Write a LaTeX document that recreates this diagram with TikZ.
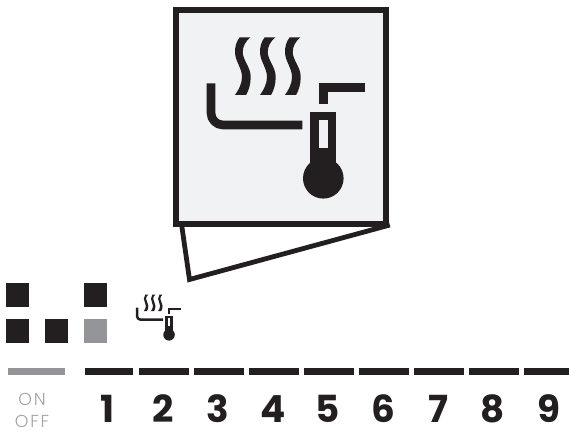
\documentclass[tikz,border=0pt]{standalone}
\usepackage{fontspec}
\setmainfont{Poppins}
\newfontfamily\digitfont{Poppins Bold}
\newfontfamily\labelfont[LetterSpace=10]{Poppins Light}
\definecolor{ink}{HTML}{231F20}
\definecolor{midgray}{HTML}{939598}
\definecolor{labelgray}{HTML}{A0A2A5}
\definecolor{panel}{HTML}{F1F2F3}
\tikzset{
  x=0.75pt,y=-0.75pt,
  block/.style={fill=ink,draw=none},
  grayblock/.style={fill=midgray,draw=none},
  digit/.style={inner sep=0pt,anchor=base,text=ink,font=\digitfont\fontsize{28}{28}\selectfont},
  onoff/.style={inner sep=0pt,anchor=base,text=labelgray,font=\labelfont\fontsize{13}{13}\selectfont},
}
% #1 = x shift, #2 = y shift, #3 = scale, #4 = background of the tube window
\newcommand{\steamicon}[4]{%
  \begin{scope}[shift={(#1,#2)},x=#3*0.75pt,y=-#3*0.75pt]
    \draw[ink,line width=#3*6.5pt,line join=round]
      (211,83.3) -- (211,113) arc[start angle=180,end angle=270,x radius=12,y radius=-12] -- (302.3,125);
    \draw[ink,line width=#3*6.4pt] (323.5,103.7) -- (323.5,87.7) -- (365.3,87.7);
    \fill[ink] (310,111.7) rectangle (336,170);
    \fill[ink] (323.3,178.3) circle[radius=20.3];
    \fill[#4] (318.7,120) rectangle (327.7,147.7);
    \foreach \d in {0,25,50}{
      \fill[ink] (239.7+\d,37.3)
        .. controls (236+\d,42) and (235+\d,47) .. (235+\d,52)
        .. controls (235+\d,61) and (242+\d,68) .. (242+\d,77)
        .. controls (242+\d,84) and (238.5+\d,90) .. (235+\d,95)
        -- (246+\d,95)
        .. controls (249+\d,90) and (250.7+\d,84) .. (250.7+\d,77)
        .. controls (250.7+\d,67) and (242.7+\d,60) .. (242.7+\d,52)
        .. controls (242.7+\d,46) and (246+\d,41) .. (250.3+\d,37.3)
        -- cycle;
    }
  \end{scope}}
\begin{document}
\begin{tikzpicture}
\useasboundingbox (0,0) rectangle (569,431);
% flap and panel
\draw[ink,line width=3.6pt,line join=miter] (181.5,224) -- (189.5,279.5) -- (389.8,225);
\draw[ink,line width=4.6pt,fill=panel] (175.6,9.7) rectangle (386.2,224);
\steamicon{0}{0}{1}{panel}
\steamicon{76.9}{284}{0.285}{white}
% mode squares
\path[block] (6,283) rectangle (29,307);
\path[block] (84,283) rectangle (107,307);
\path[block] (6,319) rectangle (29,343);
\path[block] (45,319) rectangle (68,343);
\path[grayblock] (84,319) rectangle (107,343);
% bars
\path[grayblock] (8,368) rectangle (65,375);
\path[block] (85,368) rectangle (133,375);
\path[block] (139,368) rectangle (189,375);
\foreach \a in {194,249,304,359,414,469}{
  \path[block] (\a,368) rectangle (\a+50,375);
}
\path[block] (524,368) rectangle (569,375);
% labels
\node[onoff] (on) at (32,406) {ON};
\node[onoff] (off) at (32,428) {OFF};
\node[digit] (d1) at (108,423) {1};
\node[digit] (d2) at (163,423) {2};
\node[digit] (d3) at (218,423) {3};
\node[digit] (d4) at (273,423) {4};
\node[digit] (d5) at (328,423) {5};
\node[digit] (d6) at (383,423) {6};
\node[digit] (d7) at (438,423) {7};
\node[digit] (d8) at (493,423) {8};
\node[digit] (d9) at (549,423) {9};
\end{tikzpicture}
\end{document}
